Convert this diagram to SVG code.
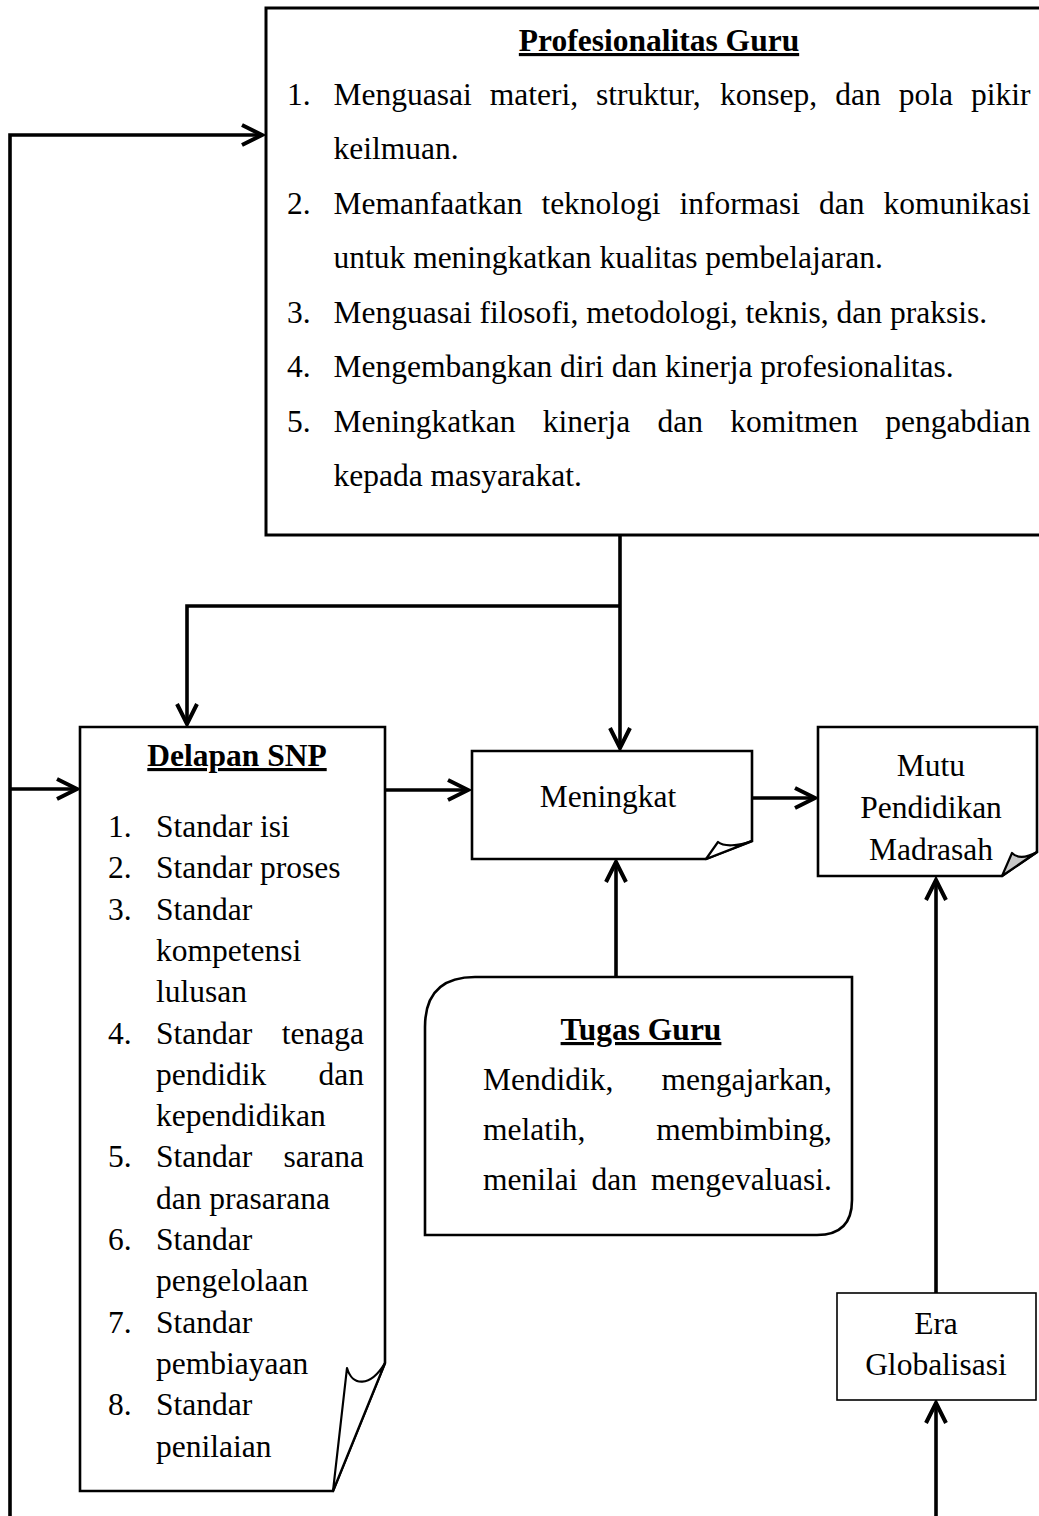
<svg xmlns="http://www.w3.org/2000/svg" width="1039" height="1516" viewBox="0 0 1039 1516">
<style>
text{font-family:"Liberation Serif","Times New Roman",serif;font-size:31.5px;fill:#000}
.b{font-weight:bold;text-decoration:underline}
.c{text-anchor:middle}
.e{text-anchor:end}
.box{fill:#fff;stroke:#000;stroke-width:2.6;stroke-linejoin:miter}
.fold{fill:#fff;stroke:#000;stroke-width:2.2;stroke-linejoin:round}
.fold.grey{fill:#c8c8c8}
.conn{fill:none;stroke:#000;stroke-width:3.6}
</style>
<defs>
<marker id="ah" markerUnits="userSpaceOnUse" markerWidth="30" markerHeight="30" refX="0" refY="0" orient="auto" overflow="visible" viewBox="-25 -15 30 30">
<path d="M-20,-10 L0,0 L-20,10" fill="none" stroke="#000" stroke-width="4" stroke-linejoin="miter"/>
</marker>
</defs>

<g id="connectors">
<polyline class="conn" points="10,1516 10,135 262,135" marker-end="url(#ah)"/>
<line class="conn" x1="10" y1="789" x2="77" y2="789" marker-end="url(#ah)"/>
<line class="conn" x1="620" y1="535" x2="620" y2="748" marker-end="url(#ah)"/>
<polyline class="conn" points="620,606 187,606 187,724" marker-end="url(#ah)"/>
<line class="conn" x1="385" y1="790" x2="468" y2="790" marker-end="url(#ah)"/>
<line class="conn" x1="752" y1="798" x2="815" y2="798" marker-end="url(#ah)"/>
<line class="conn" x1="616" y1="977" x2="616" y2="862" marker-end="url(#ah)"/>
<line class="conn" x1="936" y1="1293" x2="936" y2="880" marker-end="url(#ah)"/>
<line class="conn" x1="936" y1="1516" x2="936" y2="1403" marker-end="url(#ah)"/>
</g>

<g id="profesionalitas-guru">
<rect x="266" y="8" width="790" height="527" fill="#fff" stroke="#000" stroke-width="3"/>
<text class="b c" x="659" y="51">Profesionalitas Guru</text>
<text x="287" y="105">1.</text>
<text y="105"><tspan x="333.5">Menguasai</tspan><tspan x="489.7">materi,</tspan><tspan x="596.1">struktur,</tspan><tspan x="720">konsep,</tspan><tspan x="835.2">dan</tspan><tspan x="898.7">pola</tspan><tspan x="971">pikir</tspan></text>
<text x="333.5" y="159">keilmuan.</text>
<text x="287" y="214">2.</text>
<text y="214"><tspan x="333.5">Memanfaatkan</tspan><tspan x="541.4">teknologi</tspan><tspan x="679.4">informasi</tspan><tspan x="819.1">dan</tspan><tspan x="883.6">komunikasi</tspan></text>
<text x="333.5" y="268">untuk meningkatkan kualitas pembelajaran.</text>
<text x="287" y="323">3.</text>
<text x="333.5" y="323">Menguasai filosofi, metodologi, teknis, dan praksis.</text>
<text x="287" y="377">4.</text>
<text x="333.5" y="377">Mengembangkan diri dan kinerja profesionalitas.</text>
<text x="287" y="432">5.</text>
<text y="432"><tspan x="333.5">Meningkatkan</tspan><tspan x="542.75">kinerja</tspan><tspan x="657.5">dan</tspan><tspan x="730.25">komitmen</tspan><tspan x="885.3">pengabdian</tspan></text>
<text x="333.5" y="486">kepada masyarakat.</text>
</g>

<g id="delapan-snp">
<path class="box" d="M80,727 H385 V1363 L333,1491 H80 Z"/>
<path class="fold" d="M333,1491 L347,1368 C352,1386 370,1388 385,1363 Z"/>
<text class="b c" x="237" y="766">Delapan SNP</text>
<text x="108" y="837">1.</text><text x="156" y="837">Standar isi</text>
<text x="108" y="878.3">2.</text><text x="156" y="878.3">Standar proses</text>
<text x="108" y="919.6">3.</text><text x="156" y="919.6">Standar</text>
<text x="156" y="960.9">kompetensi</text>
<text x="156" y="1002.2">lulusan</text>
<text x="108" y="1043.5">4.</text><text x="156" y="1043.5">Standar</text><text class="e" x="364" y="1043.5">tenaga</text>
<text x="156" y="1084.8">pendidik</text><text class="e" x="364" y="1084.8">dan</text>
<text x="156" y="1126.1">kependidikan</text>
<text x="108" y="1167.4">5.</text><text x="156" y="1167.4">Standar</text><text class="e" x="364" y="1167.4">sarana</text>
<text x="156" y="1208.7">dan prasarana</text>
<text x="108" y="1250">6.</text><text x="156" y="1250">Standar</text>
<text x="156" y="1291.3">pengelolaan</text>
<text x="108" y="1332.6">7.</text><text x="156" y="1332.6">Standar</text>
<text x="156" y="1373.9">pembiayaan</text>
<text x="108" y="1415.2">8.</text><text x="156" y="1415.2">Standar</text>
<text x="156" y="1456.5">penilaian</text>
</g>

<g id="meningkat">
<path class="box" d="M472,751 H752 V841 L706,859 H472 Z"/>
<path class="fold" d="M706,859 L718,842 C724,847 738,846 752,841 Z"/>
<text class="c" x="608" y="807">Meningkat</text>
</g>

<g id="mutu-pendidikan-madrasah">
<path class="box" d="M818,727 H1037 V852 L1002,876 H818 Z"/>
<path class="fold grey" d="M1002,876 L1012,853 C1018,859 1028,857 1037,852 Z"/>
<text class="c" x="931" y="776">Mutu</text>
<text class="c" x="931" y="818">Pendidikan</text>
<text class="c" x="931" y="860">Madrasah</text>
</g>

<g id="tugas-guru">
<path class="box" d="M475,977 H852 V1200 Q852,1235 817,1235 H425 V1027 Q425,977 475,977 Z"/>
<text class="b c" x="641" y="1040">Tugas Guru</text>
<text x="483" y="1090">Mendidik,</text><text class="e" x="832" y="1090">mengajarkan,</text>
<text x="483" y="1140">melatih,</text><text class="e" x="832" y="1140">membimbing,</text>
<text y="1190"><tspan x="483">menilai</tspan><tspan x="591.5">dan</tspan></text><text class="e" x="832" y="1190">mengevaluasi.</text>
</g>

<g id="era-globalisasi">
<rect x="837" y="1293" width="199" height="107" fill="#fff" stroke="#000" stroke-width="1.6"/>
<text class="c" x="936" y="1334">Era</text>
<text class="c" x="936" y="1375">Globalisasi</text>
</g>
</svg>
